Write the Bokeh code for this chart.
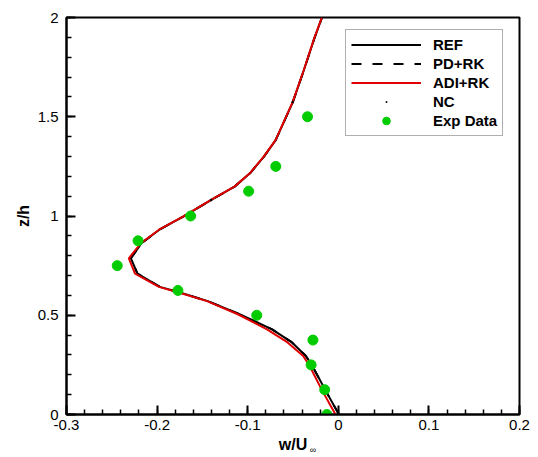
from bokeh.plotting import figure
from bokeh.models import (Range1d, FixedTicker, CustomJSTickFormatter,
                          Legend, LegendItem, LinearAxis)
from bokeh.embed import file_html
from bokeh.resources import INLINE

# Vertical velocity profiles w/U_inf against height z/h
z_ref = [0.0, 0.124, 0.249, 0.296, 0.363, 0.429, 0.505, 0.571, 0.613, 0.643,
         0.710, 0.787, 0.864, 0.931, 0.997, 1.081, 1.148, 1.215, 1.298, 1.382,
         1.574, 1.733, 1.891, 2.0]
w_ref = [0.0007, -0.0144, -0.0292, -0.0360, -0.0511, -0.0731, -0.1090, -0.1440,
         -0.1740, -0.1970, -0.2217, -0.2289, -0.2170, -0.1975, -0.1712, -0.1402,
         -0.1145, -0.0975, -0.0823, -0.0691, -0.0502, -0.0381, -0.0267, -0.0180]
w_pd = list(w_ref)

z_adi = [0.0, 0.124, 0.249, 0.296, 0.363, 0.429, 0.505, 0.571, 0.613, 0.643,
         0.710, 0.787, 0.864, 0.931, 0.997, 1.081, 1.148, 1.215, 1.298, 1.382,
         1.574, 1.733, 1.891, 2.0]
w_adi = [-0.0031, -0.0182, -0.0322, -0.0390, -0.0560, -0.0787, -0.1109, -0.1449,
         -0.1752, -0.1979, -0.2244, -0.2312, -0.2176, -0.1979, -0.1714, -0.1404,
         -0.1147, -0.0977, -0.0825, -0.0693, -0.0504, -0.0383, -0.0269, -0.0182]

z_nc = [1.081, 1.574]
w_nc = [-0.1404, -0.0504]

z_exp = [0.0, 0.125, 0.25, 0.375, 0.5, 0.625, 0.75, 0.875, 1.0, 1.125, 1.25, 1.5]
w_exp = [-0.0126, -0.015, -0.030, -0.028, -0.090, -0.177, -0.244, -0.221,
         -0.163, -0.099, -0.069, -0.034]

legend_labels = ["REF", "PD+RK", "ADI+RK", "NC", "Exp Data"]

x_major = [-0.3, -0.2, -0.1, 0.0, 0.1, 0.2]
x_minor = [round(-0.3 + 0.02 * i, 2) for i in range(26)]
y_major = [0.0, 0.5, 1.0, 1.5, 2.0]
y_minor = [round(0.1 * i, 1) for i in range(21)]

FONT = "Liberation Sans"

p = figure(width=538, height=457, output_backend="svg", toolbar_location=None,
           x_range=Range1d(-0.3, 0.2), y_range=Range1d(0, 2),
           min_border_left=66, min_border_right=19, min_border_top=17,
           min_border_bottom=43)
p.grid.visible = False
p.outline_line_color = "black"
p.outline_line_width = 2
p.background_fill_color = "white"
p.border_fill_color = "white"

fmt = CustomJSTickFormatter(code="return (Math.round(tick*10)/10).toString();")

for ax, major, minor in ((p.xaxis[0], x_major, x_minor),
                         (p.yaxis[0], y_major, y_minor)):
    ax.ticker = FixedTicker(ticks=major, minor_ticks=minor)
    ax.formatter = fmt
    ax.axis_line_width = 2
    ax.major_tick_in = 9
    ax.major_tick_out = 0
    ax.minor_tick_in = 5
    ax.minor_tick_out = 0
    ax.major_tick_line_width = 2
    ax.minor_tick_line_width = 1.5
    ax.major_label_text_font = FONT
    ax.major_label_text_font_size = "15px"
    ax.major_label_text_color = "black"

p.xaxis.major_label_standoff = 5
p.yaxis.major_label_standoff = 8

for ax in (p.xaxis[0], p.yaxis[0]):
    ax.axis_label_text_font = FONT
    ax.axis_label_text_font_style = "bold"
    ax.axis_label_text_font_size = "16px"
    ax.axis_label_text_color = "black"
p.yaxis.axis_label = "z/h"
p.yaxis.axis_label_standoff = 3
p.xaxis.axis_label = "w/U"
p.xaxis.axis_label_standoff = 3

# bare second axis below that only carries the small infinity subscript
sub_axis = LinearAxis(ticker=FixedTicker(ticks=[]), axis_line_color=None,
                      major_tick_line_color=None, minor_tick_line_color=None,
                      major_tick_in=0, major_tick_out=0, minor_tick_in=0,
                      minor_tick_out=0, major_label_standoff=0,
                      axis_label="\u00a0" * 16 + "∞", axis_label_standoff=-11,
                      axis_label_text_font=FONT, axis_label_text_font_size="9px",
                      axis_label_text_font_style="normal",
                      axis_label_text_color="black")
p.add_layout(sub_axis, "below")

r_ref = p.line(w_ref, z_ref, line_color="black", line_width=2)
r_pd = p.line(w_pd, z_ref, line_color="black", line_width=2, line_dash="10 11")
r_adi = p.line(w_adi, z_adi, line_color="#e00000", line_width=2)
r_nc = p.scatter(w_nc, z_nc, marker="dot", size=10, color="black")
r_exp = p.scatter(w_exp, z_exp, size=10, color="#00cc00")

legend = Legend(items=[LegendItem(label=lab, renderers=[r]) for lab, r in
                       zip(legend_labels, [r_ref, r_pd, r_adi, r_nc, r_exp])],
                location=(279, 278), orientation="vertical",
                glyph_width=70, glyph_height=19, label_height=19,
                label_standoff=12, spacing=0, padding=5, margin=0,
                label_text_font=FONT, label_text_font_style="bold",
                label_text_font_size="15px", label_text_color="black",
                border_line_color="#606060", border_line_width=1.5,
                background_fill_color="white", background_fill_alpha=1.0)
p.add_layout(legend, "center")

open("out.html", "w").write(file_html(p, INLINE))
